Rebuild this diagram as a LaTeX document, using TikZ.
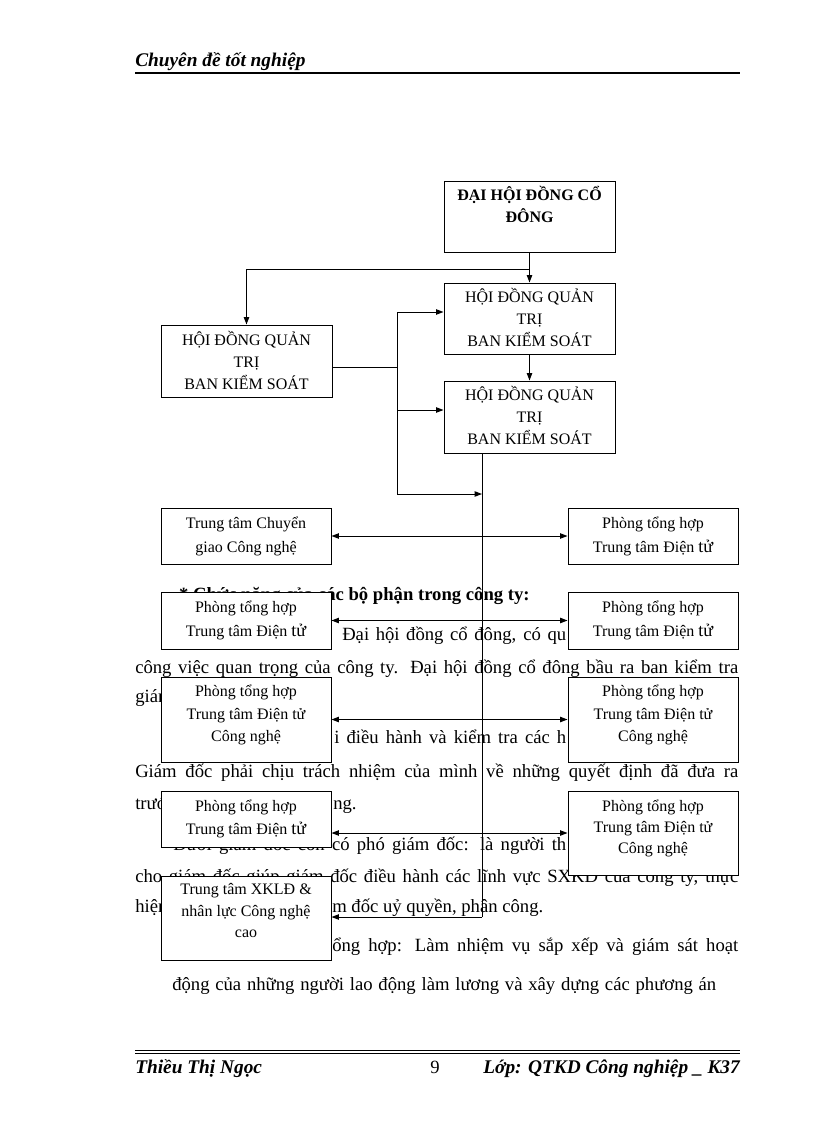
\documentclass[tikz,border=0pt]{standalone}
\usepackage{fontspec}
\setmainfont{Liberation Serif}
\usetikzlibrary{arrows.meta,fit,calc}
\newcommand\tu{{\fontsize{13.5}{14}\selectfont tử}}
\newcommand\orgbox[8]{%
  \node[box, fit={(#2,#3) (#4,#5)}] (#1) {};
  \foreach \t [count=\i] in {#8} {%
    \node[bt] (#1-\i) at ($(#1.north)+(0,{#6+(\i-1)*#7})$) {\t};
  }%
}
\begin{document}
\begin{tikzpicture}[x=0.75pt,y=-0.75pt,
  box/.style={draw=black, fill=white, line width=0.75pt, inner sep=0pt},
  bt/.style={font=\fontsize{12}{14}\selectfont, inner sep=0pt, anchor=base},
  body/.style={font=\fontsize{14}{16}\selectfont, inner sep=0pt},
  hdr/.style={font=\fontsize{14.5}{16}\selectfont\bfseries\itshape, inner sep=0pt},
  ln/.style={line width=0.75pt},
  arr/.style={ln, -{Triangle[length=5.5pt,width=4pt]}},
  darr/.style={ln, {Triangle[length=5.5pt,width=4pt]}-{Triangle[length=5.5pt,width=4pt]}},
]
\useasboundingbox (0,0) rectangle (816,1123);
\fill[white] (0,0) rectangle (816,1123);

% header and footer
\node[hdr, anchor=base west] (h1) at (135,67) {Chuyên đề tốt nghiệp};
\draw[line width=1.6pt] (135,73) -- (740,73);
\draw[line width=0.6pt] (135,1050) -- (740,1050);
\draw[line width=0.6pt] (135,1053) -- (740,1053);
\node[hdr, anchor=base west] (f1) at (135,1073) {Thiều Thị Ngọc};
\node[body, anchor=base] (f2) at (435,1073) {9};
\node[hdr, anchor=base east] (f3) at (740,1073) {Lớp: QTKD Công nghiệp \_ K37};

% body text (partly covered by boxes)
\node[body, font=\fontsize{14}{16}\selectfont\bfseries, anchor=base east] (t1) at (530,600) {* Chức năng của các bộ phận trong công ty:};
\node[body, anchor=base west] (t2) at (342,640) {\makebox[168pt][s]{Đại hội đồng cổ đông, có qu}};
\node[body, anchor=base west] (t3) at (135,673) {\makebox[452.25pt][s]{công việc quan trọng của công ty. Đại hội đồng cổ đông bầu ra ban kiểm tra}};
\node[body, anchor=base west] (t4) at (135,702) {giám};
\node[body, anchor=base west] (t5) at (334,743) {\makebox[174pt][s]{i điều hành và kiểm tra các h}};
\node[body, anchor=base west] (t6) at (135,777) {\makebox[452.25pt][s]{Giám đốc phải chịu trách nhiệm của mình về những quyết định đã đưa ra}};
\node[body, anchor=base west] (t7a) at (135,809) {trước};
\node[body, anchor=base west] (t7b) at (333,809) {ng.};
\node[body, anchor=base west] (t8) at (173,850) {\makebox[294.75pt][s]{Dưới giám đốc còn có phó giám đốc: là người th}};
\node[body, anchor=base west] (t9) at (135,882) {\makebox[452.25pt][s]{cho giám đốc giúp giám đốc điều hành các lĩnh vực SXKD của công ty, thực}};
\node[body, anchor=base west] (t10a) at (135,912) {hiện};
\node[body, anchor=base west] (t10b) at (332,912) {m đốc uỷ quyền, phân công.};
\node[body, anchor=base west] (t11) at (332,951) {\makebox[304.5pt][s]{ổng hợp: Làm nhiệm vụ sắp xếp và giám sát hoạt}};
\node[body, anchor=base west] (t12) at (172,990) {\makebox[408pt][s]{động của những người lao động làm lương và xây dựng các phương án}};

% boxes
\orgbox{A}{444}{182}{615}{252}{19}{22}{\textbf{ĐẠI HỘI ĐỒNG CỔ},\textbf{ĐÔNG}}
\orgbox{B}{444}{283}{615}{354}{20}{22}{HỘI ĐỒNG QUẢN,TRỊ,BAN KIỂM SOÁT}
\orgbox{C}{161}{325}{332}{397}{21}{22}{HỘI ĐỒNG QUẢN,TRỊ,BAN KIỂM SOÁT}
\orgbox{D}{444}{381}{615}{453}{20}{22}{HỘI ĐỒNG QUẢN,TRỊ,BAN KIỂM SOÁT}
\orgbox{E}{161}{508}{331}{564}{21}{24}{Trung tâm Chuyển,giao Công nghệ}
\orgbox{F}{568}{508}{738}{564}{21}{24}{Phòng tổng hợp,Trung tâm Điện \tu}
\orgbox{G}{161}{592}{331}{649}{21}{24}{Phòng tổng hợp,Trung tâm Điện \tu}
\orgbox{H}{568}{592}{738}{649}{21}{24}{Phòng tổng hợp,Trung tâm Điện \tu}
\orgbox{I}{161}{677}{331}{762}{20}{22.5}{Phòng tổng hợp,Trung tâm Điện tử,Công nghệ}
\orgbox{J}{568}{677}{738}{762}{20}{22.5}{Phòng tổng hợp,Trung tâm Điện tử,Công nghệ}
\orgbox{K}{161}{791}{331}{847}{21}{23}{Phòng tổng hợp,Trung tâm Điện \tu}
\orgbox{L}{568}{791}{738}{875}{21}{21}{Phòng tổng hợp,Trung tâm Điện tử,Công nghệ}
\orgbox{M}{161}{876}{331}{960}{19}{21.5}{Trung tâm XKLĐ \&,nhân lực Công nghệ,cao}

% connectors
\coordinate (j1) at (529.5,269);
\coordinate (cb) at (397,367);
\coordinate (bt) at (397,312);
\coordinate (bd) at (397,410);
\coordinate (bb) at (397,494);
\coordinate (vj) at (482,494);
\coordinate (vm) at (482,917);
\draw[arr] (A) -- (B);
\draw[arr] (j1) -| (C);
\draw[arr] (B) -- (D);
\draw[ln] (C.east |- cb) -- (cb);
\draw[ln] (bt) -- (bb);
\draw[arr] (bt) -- (B.west |- bt);
\draw[arr] (bd) -- (D.west |- bd);
\draw[arr] (bb) -- (vj);
\draw[ln] (D.south -| vm) -- (vm);
\draw[darr] (E) -- (F);
\draw[darr] (G) -- (H);
\draw[darr] (I) -- (J);
\draw[darr] (K.east |- L.west) -- (L.west);
\draw[arr] (vm) -- (M.east |- vm);
\end{tikzpicture}
\end{document}
